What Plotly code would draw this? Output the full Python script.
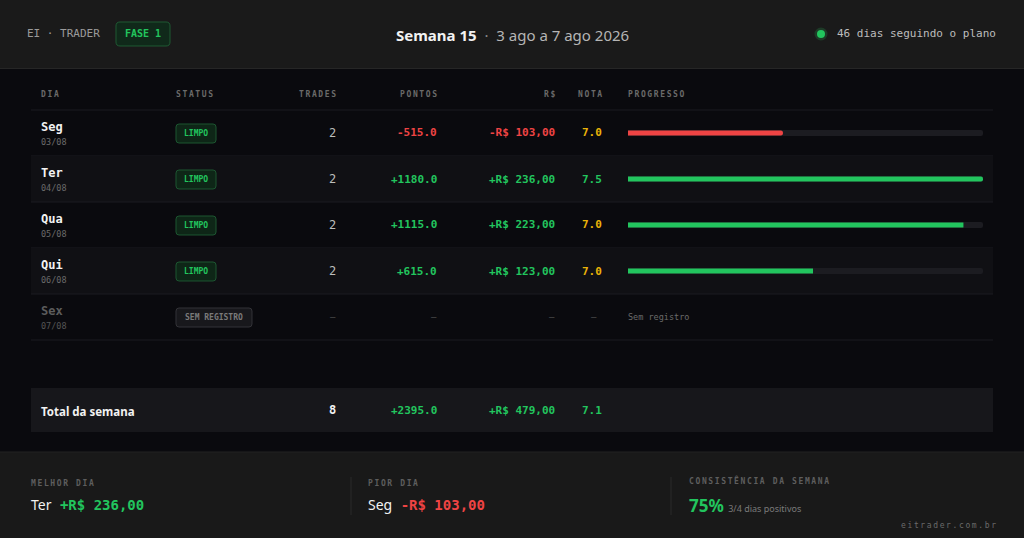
import plotly.graph_objects as go

# dados da semana
dias = ["Seg", "Ter", "Qua", "Qui", "Sex"]
datas = ["03/08", "04/08", "05/08", "06/08", "07/08"]
status = ["LIMPO", "LIMPO", "LIMPO", "LIMPO", "SEM REGISTRO"]
trades = [2, 2, 2, 2, None]
pontos = [-515.0, 1180.0, 1115.0, 615.0, None]
reais = [-103.00, 236.00, 223.00, 123.00, None]
notas = [7.0, 7.5, 7.0, 7.0, None]
colunas = ["DIA", "STATUS", "TRADES", "PONTOS", "R$", "NOTA", "PROGRESSO"]

semana = 15
periodo = "3 ago a 7 ago 2026"
dias_plano = 46

W, H = 1024, 538
BG = "#0a0a0e"
BAND = "#1a1a1a"
GREEN = "#22c55e"
RED = "#ef4444"
AMBER = "#eab308"
MONO = "DejaVu Sans Mono"
SANS = "Noto Sans"


def px(x):
    return x / W


def py(y):
    return 1 - y / H


def fmt_pts(v):
    return ("+" if v >= 0 else "-") + f"{abs(v):.1f}"


def fmt_rs(v):
    return ("+" if v >= 0 else "-") + "R$ " + f"{abs(v):.2f}".replace(".", ",")


def spaced(s):
    # espaçamento entre letras nos rótulos (espaço fino numa fonte proporcional)
    gap = "<span style='font-family:DejaVu Sans'>\u2009</span>"
    return gap.join(s)


fig = go.Figure()
shapes = []
ann = []


def note(x, y, s, size=11, color="#e5e5e5", family=MONO, anchor="left", weight="normal"):
    ann.append(dict(x=px(x), y=py(y), xref="paper", yref="paper", text=s, showarrow=False,
                    xanchor=anchor, yanchor="middle", borderpad=0, borderwidth=0,
                    font=dict(size=size, color=color, family=family, weight=weight)))


def rect(x0, y0, x1, y1, fill, line=None, lw=1):
    shapes.append(dict(type="rect", xref="paper", yref="paper", x0=px(x0), x1=px(x1),
                       y0=py(y1), y1=py(y0), fillcolor=fill,
                       line=dict(color=line or fill, width=lw if line else 0), layer="below"))


def rrect(x0, y0, x1, y1, fill, line, r=3):
    # retângulo com cantos arredondados (coordenadas em pixels -> papel)
    p = lambda x, y: f"{px(x):.5f},{py(y):.5f}"
    path = (f"M {p(x0 + r, y0)} L {p(x1 - r, y0)} Q {p(x1, y0)} {p(x1, y0 + r)} "
            f"L {p(x1, y1 - r)} Q {p(x1, y1)} {p(x1 - r, y1)} "
            f"L {p(x0 + r, y1)} Q {p(x0, y1)} {p(x0, y1 - r)} "
            f"L {p(x0, y0 + r)} Q {p(x0, y0)} {p(x0 + r, y0)} Z")
    shapes.append(dict(type="path", xref="paper", yref="paper", path=path,
                       fillcolor=fill, line=dict(color=line, width=1)))


def hline(x0, x1, y, color, width=1):
    shapes.append(dict(type="line", xref="paper", yref="paper", x0=px(x0), x1=px(x1),
                       y0=py(y), y1=py(y), line=dict(color=color, width=width), layer="below"))


# faixas de fundo
rect(0, 0, W, 68, BAND)
hline(0, W, 68.5, "#262626")
rect(0, 452, W, H, "#191919")
hline(0, W, 452, "#222222")

# cabeçalho
note(27, 34, "EI · TRADER", size=11, color="#9a9a9a")
rrect(116, 22, 170, 46, "#10291a", "#1f5a33", r=4)
note(143, 34, "FASE 1", size=10, color=GREEN, anchor="center", weight="bold")
ann.append(dict(x=0.5, y=py(35), xref="paper", yref="paper", showarrow=False,
                xanchor="center", yanchor="middle", borderpad=0, borderwidth=0,
                text=f"<b>Semana {semana}</b>  <span style='color:#8a8a8a'>·</span>  "
                     f"<span style='color:#b5b5b5'>{periodo}</span>",
                font=dict(size=15, color="#f2f2f2", family=SANS)))
shapes.append(dict(type="circle", xref="paper", yref="paper", x0=px(814.5), x1=px(827.5),
                   y0=py(40.5), y1=py(27.5), fillcolor="#1d3b27", line=dict(width=0)))
shapes.append(dict(type="circle", xref="paper", yref="paper", x0=px(817), x1=px(825),
                   y0=py(38), y1=py(30), fillcolor=GREEN, line=dict(width=0)))
note(996, 34, f"{dias_plano} dias seguindo o plano", size=11, color="#bdbdbd", anchor="right")

# tabela
TOP = 110
ROW = 46
col_x = [41, 176, 336, 437, 555, 602, 628]
col_anchor = ["left", "left", "right", "right", "right", "right", "left"]
for c, x, a in zip(colunas, col_x, col_anchor):
    note(x, 95, spaced(c), size=8, color="#6a6a6a", anchor=a, weight="bold")
hline(31, 993, TOP, "#1b1b20")

for i, d in enumerate(dias):
    y0 = TOP + ROW * i
    yc = y0 + ROW / 2
    if i % 2 == 1:
        rect(31, y0, 993, y0 + ROW, "#101014")
    hline(31, 993, y0 + ROW, "#1b1b20")
    has = trades[i] is not None
    note(41, yc - 6, f"<b>{d}</b>", size=12, color="#f2f2f2" if has else "#5c5c5c")
    note(41, yc + 9, datas[i], size=8.5, color="#6a6a6a" if has else "#555555")
    if has:
        rrect(176, yc - 9, 216, yc + 10, "#0e2617", "#1d5631")
        note(196, yc + 0.5, f"<b>{status[i]}</b>", size=8, color=GREEN, anchor="center")
        vc = GREEN if reais[i] >= 0 else RED
        note(336, yc, str(trades[i]), size=12, color="#bdbdbd", anchor="right")
        note(437, yc, f"<b>{fmt_pts(pontos[i])}</b>", size=11, color=vc, anchor="right")
        note(555, yc, f"<b>{fmt_rs(reais[i])}</b>", size=11, color=vc, anchor="right")
        note(602, yc, f"<b>{notas[i]:.1f}</b>", size=11,
             color=GREEN if notas[i] >= 7.5 else AMBER, anchor="right")
    else:
        rrect(176, yc - 9, 252, yc + 10, "#18181c", "#333338")
        note(214, yc + 0.5, f"<b>{status[i]}</b>", size=8, color="#7a7a7a", anchor="center")
        for x in (336, 437, 555, 597):
            note(x, yc, "—", size=9, color="#555555", anchor="right")
        note(628, yc, "Sem registro", size=8.5, color="#6a6a6a")

# barras de progresso
max_rs = max(abs(v) for v in reais if v is not None)
prog = [abs(v) / max_rs if v is not None else None for v in reais]
track = [1 if v is not None else None for v in reais]
bar_colors = [GREEN if (v or 0) >= 0 else RED for v in reais]
fig.add_trace(go.Bar(x=track, y=dias, orientation="h", width=0.13,
                     marker=dict(color="#1c1c21", cornerradius=3, line=dict(width=0)),
                     xaxis="x", yaxis="y", hoverinfo="skip"))
fig.add_trace(go.Bar(x=prog, y=dias, orientation="h", width=0.11,
                     marker=dict(color=bar_colors, cornerradius=3, line=dict(width=0)),
                     xaxis="x", yaxis="y", hoverinfo="skip"))

# total da semana
tot_trades = sum(t for t in trades if t is not None)
tot_pts = sum(p for p in pontos if p is not None)
tot_rs = sum(r for r in reais if r is not None)
nv = [n for n in notas if n is not None]
tot_nota = sum(nv) / len(nv)
rect(31, 388, 993, 432, "#17171b")
note(41, 411, "<b>Total da semana</b>", size=11.5, color="#f2f2f2", family=SANS)
note(336, 410, f"<b>{tot_trades}</b>", size=12, color="#f2f2f2", anchor="right")
note(437, 410, f"<b>{fmt_pts(tot_pts)}</b>", size=11, color=GREEN, anchor="right")
note(555, 410, f"<b>{fmt_rs(tot_rs)}</b>", size=11, color=GREEN, anchor="right")
note(602, 410, f"<b>{tot_nota:.1f}</b>", size=11, color=GREEN, anchor="right")

# rodapé
validos = [i for i, r in enumerate(reais) if r is not None]
melhor = max(validos, key=lambda i: reais[i])
pior = min(validos, key=lambda i: reais[i])
positivos = sum(1 for i in validos if reais[i] > 0)

note(31, 483, spaced("MELHOR DIA"), size=8, color="#5e5e5e", weight="bold")
note(31, 504, f"<span style='font-family:{SANS}'>{dias[melhor]}</span> "
              f"<span style='color:{GREEN}'><b>{fmt_rs(reais[melhor])}</b></span>",
     size=14, color="#f2f2f2")
note(368, 483, spaced("PIOR DIA"), size=8, color="#5e5e5e", weight="bold")
note(368, 504, f"<span style='font-family:{SANS}'>{dias[pior]}</span> "
               f"<span style='color:{RED}'><b>{fmt_rs(reais[pior])}</b></span>",
     size=14, color="#f2f2f2")
note(689, 480, spaced("CONSISTÊNCIA DA SEMANA"), size=8, color="#5e5e5e", weight="bold")
note(689, 505, f"<b>{round(100 * positivos / len(validos))}%</b> "
               f"<span style='font-size:9px;color:#7a7a7a'>{positivos}/{len(validos)} dias positivos</span>",
     size=17, color=GREEN, family=SANS)
for x in (351, 671):
    shapes.append(dict(type="line", xref="paper", yref="paper", x0=px(x), x1=px(x),
                       y0=py(515), y1=py(477), line=dict(color="#2a2a2a", width=1)))
note(996, 525, spaced("eitrader.com.br"), size=8, color="#6a6a6a", anchor="right")

fig.update_layout(
    width=W, height=H, margin=dict(l=0, r=0, t=0, b=0),
    paper_bgcolor=BG, plot_bgcolor="rgba(0,0,0,0)",
    showlegend=False, barmode="overlay",
    xaxis=dict(domain=[px(628), px(983)], range=[0, 1], visible=False, fixedrange=True),
    yaxis=dict(domain=[py(TOP + ROW * 5), py(TOP)], range=[4.5, -0.5],
               visible=False, fixedrange=True, categoryorder="array", categoryarray=dias),
    shapes=shapes, annotations=ann,
)

fig.write_html("out.html", config={"displayModeBar": False},
               post_script="document.body.style.margin='0';")
